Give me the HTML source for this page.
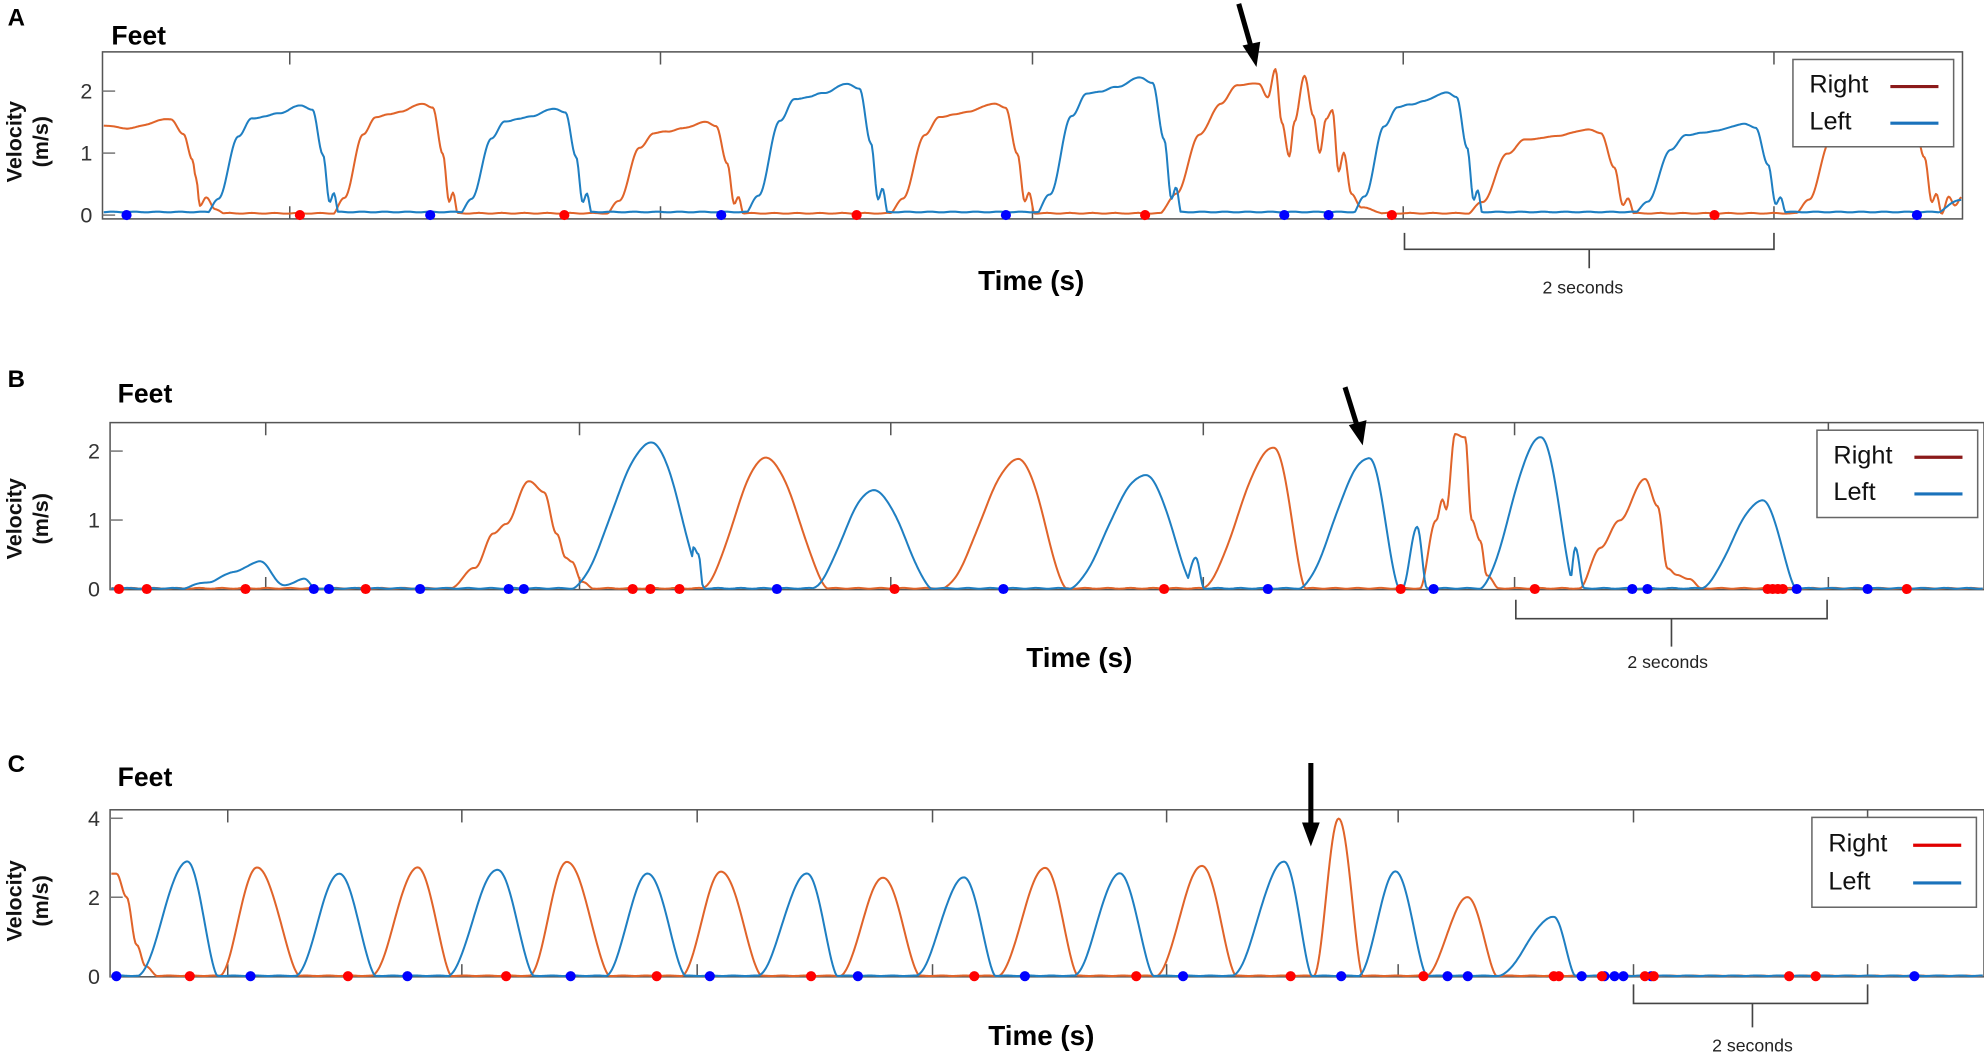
<!DOCTYPE html>
<html><head><meta charset="utf-8"><style>
html,body{margin:0;padding:0;background:#fff;}
svg{display:block;}
text{font-family:"Liberation Sans",sans-serif;}
</style></head><body>
<svg id="s" width="1984" height="1054" viewBox="0 0 1568 833" preserveAspectRatio="none" xmlns="http://www.w3.org/2000/svg">
<rect width="1568" height="833" fill="#fff"/>
<g id="plots"></g>
<text x="6" y="20" font-size="19" font-weight="bold">A</text>
<text x="6" y="306" font-size="19" font-weight="bold">B</text>
<text x="6" y="610" font-size="19" font-weight="bold">C</text>
<text x="88" y="35" font-size="21" font-weight="bold">Feet</text>
<text x="93" y="318" font-size="21" font-weight="bold">Feet</text>
<text x="93" y="621" font-size="21" font-weight="bold">Feet</text>
<g font-size="17" font-weight="bold" text-anchor="middle" fill="#111">
<text transform="translate(17,112) rotate(-90)">Velocity</text>
<text transform="translate(38,112) rotate(-90)">(m/s)</text>
<text transform="translate(17,410) rotate(-90)">Velocity</text>
<text transform="translate(38,410) rotate(-90)">(m/s)</text>
<text transform="translate(17,712) rotate(-90)">Velocity</text>
<text transform="translate(38,712) rotate(-90)">(m/s)</text>
</g>
<g font-size="22" font-weight="bold" text-anchor="middle">
<text x="815" y="229">Time (s)</text>
<text x="853" y="527">Time (s)</text>
<text x="823" y="826">Time (s)</text>
</g>
<g fill="none" stroke="#444" stroke-width="1.3">
<path d="M1110,184 V197 H1402 V184 M1256,197 V212"/>
<path d="M1198,474 V489 H1444 V474 M1321,489 V511"/>
<path d="M1291,778 V793 H1476 V778 M1385,793 V812"/>
</g>
<g font-size="14" text-anchor="middle" fill="#222">
<text x="1251" y="232">2 seconds</text>
<text x="1318" y="528">2 seconds</text>
<text x="1385" y="831">2 seconds</text>
</g>
<g stroke="#000" stroke-width="4" fill="#000">
<line x1="979" y1="3" x2="989" y2="38"/>
<polygon points="982,36 996,33 993,53" stroke="none"/>
<line x1="1063" y1="306" x2="1073" y2="338"/>
<polygon points="1066,336 1080,332 1077,352" stroke="none"/>
<line x1="1036" y1="603" x2="1036" y2="652"/>
<polygon points="1029,650 1043,650 1036,669" stroke="none"/>
</g>
</svg>
<script>
(function(){
var NS="http://www.w3.org/2000/svg", G=document.getElementById("plots");
function el(t,a,p){var e=document.createElementNS(NS,t);for(var k in a)e.setAttribute(k,a[k]);(p||G).appendChild(e);return e;}
function kp(pts){return function(x){if(x<=pts[0][0]||x>=pts[pts.length-1][0])return 0;
 for(var i=0;i<pts.length-1;i++){var a=pts[i],b=pts[i+1];if(x>=a[0]&&x<=b[0]){var u=(x-a[0])/(b[0]-a[0]);u=0.5-0.5*Math.cos(Math.PI*u);return a[1]+(b[1]-a[1])*u;}}return 0;};}
function plateau(x0,x1,h){var w=x1-x0;return kp([[x0,0],[x0+.1*w,.15*h],[x0+.25*w,.72*h],[x0+.35*w,.88*h],[x0+.45*w,.9*h],[x0+.55*w,.93*h],[x0+.72*w,h],[x0+.8*w,.96*h],[x0+.88*w,.55*h],[x0+.93*w,.12*h],[x0+.96*w,.2*h],[x1,0]]);}
function bell(x0,xp,x1,h){return function(x){if(x<=x0||x>=x1)return 0;var u;if(x<xp){u=(x-x0)/(xp-x0);return h*(0.5-0.5*Math.cos(Math.PI*u));}u=(x-xp)/(x1-xp);return h*Math.pow(0.5+0.5*Math.cos(Math.PI*u),0.8);};}
function axes(L,R,T,B,ticksX,yt,zero,unit){
 el("rect",{x:L,y:T,width:R-L,height:B-T,fill:"none",stroke:"#555","stroke-width":1.2});
 ticksX.forEach(function(x){el("line",{x1:x,x2:x,y1:T,y2:T+10,stroke:"#555","stroke-width":1.2});el("line",{x1:x,x2:x,y1:B,y2:B-10,stroke:"#555","stroke-width":1.2});});
 yt.forEach(function(v){var y=zero-v*unit;el("line",{x1:L,x2:L+10,y1:y,y2:y,stroke:"#777","stroke-width":1.2});var t=el("text",{x:L-8,y:y+6,"font-size":17,"text-anchor":"end",fill:"#333"});t.textContent=v;});
}
function series(peaks,L,R,base,zero,unit,col,seed){var d="";for(var x=L;x<=R;x+=1){var v=base;peaks.forEach(function(p){v=Math.max(v,p(x));});v+=0.006*Math.sin(x*0.35+seed);var y=zero-v*unit;if(y>zero+1)y=zero+1;d+=(x==L?"M":"L")+x+","+y.toFixed(1);}
 el("path",{d:d,fill:"none",stroke:col,"stroke-width":1.6,"stroke-linejoin":"round"});}
function dots(xs,y,c){xs.forEach(function(x){el("circle",{cx:x,cy:y,r:4,fill:c});});}
function legend(x,y,w,h,rc){el("rect",{x:x,y:y,width:w,height:h,fill:"#fff",stroke:"#666","stroke-width":1.2});
 var t=el("text",{x:x+13,y:y+h*0.38,"font-size":20,fill:"#111"});t.textContent="Right";
 var t2=el("text",{x:x+13,y:y+h*0.8,"font-size":20,fill:"#111"});t2.textContent="Left";
 el("line",{x1:x+w-50,x2:x+w-12,y1:y+h*0.31,y2:y+h*0.31,stroke:rc,"stroke-width":2.5});
 el("line",{x1:x+w-50,x2:x+w-12,y1:y+h*0.73,y2:y+h*0.73,stroke:"#1a72bb","stroke-width":2.5});}
var OR="#e0642a", BL="#1f7fc2";
var zA=170,uA=49;
axes(81,1551,41,173,[229,522,816,1109,1402],[0,1,2],zA,uA);
var oA=[kp([[60,1.45],[80,1.45],[100,1.4],[135,1.55],[145,1.3],[152,0.9],[155,0.6],[158,0.15],[163,0.28],[170,0.1],[180,0]]),
 plateau(262,362,1.8),plateau(478,588,1.5),plateau(702,818,1.8),
 kp([[915,0],[930,0.35],[948,1.3],[965,1.8],[978,2.1],[995,2.12],[1002,1.9],[1008,2.35],[1013,1.5],[1019,0.95],[1023,1.5],[1031,2.25],[1038,1.6],[1043,1.0],[1048,1.55],[1053,1.7],[1058,0.7],[1062,1.0],[1068,0.35],[1076,0.12],[1100,0]]),
 plateau(1158,1292,1.38),plateau(1418,1535,1.7),kp([[1535,0.05],[1540,0.3],[1545,0.15],[1551,0.3]])];
series(oA,82,1550,0.03,zA,uA,OR,1);
var bA=[plateau(162,268,1.77),plateau(362,468,1.72),plateau(588,702,2.12),plateau(818,934,2.22),plateau(1068,1172,1.98),plateau(1290,1412,1.47),kp([[1525,0],[1551,0.25]])];
series(bA,82,1550,0.05,zA,uA,BL,2);
dots([100,340,570,795,1015,1050,1515],zA,"#00f");
dots([237,446,677,905,1100,1355],zA,"#f00");
legend(1417,47,127,69,"#8b1a1a");
var zB=465.5,uB=54.5;
axes(87,1568,334,466,[210,458,704,951,1197,1445],[0,1,2],zB,uB);
var oB=[kp([[355,0],[375,0.3],[390,0.8],[400,0.95],[418,1.57],[430,1.4],[440,0.8],[447,0.45],[452,0.4],[460,0.1],[470,0]]),
 bell(553,605,655,1.9),bell(743,805,843,1.88),bell(948,1007,1032,2.05),
 kp([[1122,0],[1135,1.0],[1140,1.3],[1143,1.15],[1150,2.25],[1158,2.2],[1163,1.0],[1170,0.7],[1175,0.2],[1185,0]]),
 kp([[1248,0],[1265,0.6],[1280,1.0],[1300,1.6],[1310,1.2],[1318,0.3],[1325,0.2],[1335,0.15],[1345,0]])];
series(oB,88,1567,0.01,zB,uB,OR,3);
var bB=[kp([[140,0],[165,0.1],[185,0.25],[205,0.4],[225,0.05],[240,0.15],[250,0]]),
 bell(450,515,558,2.12),kp([[545,0],[548,0.6],[552,0.5],[556,0]]),bell(640,690,737,1.43),
 bell(843,905,945,1.65),kp([[935,0],[945,0.45],[952,0]]),bell(1025,1082,1106,1.9),kp([[1108,0],[1120,0.9],[1128,0]]),
 bell(1168,1218,1245,2.2),kp([[1240,0],[1245,0.6],[1252,0]]),bell(1342,1393,1420,1.28)];
series(bB,88,1567,0.01,zB,uB,BL,4);
dots([94,116,194,289,500,514,537,707,920,1107,1213,1397,1401,1405,1409,1507],zB,"#f00");
dots([248,260,332,402,414,614,793,1002,1133,1290,1302,1420,1476],zB,"#00f");
legend(1436,340,127,69,"#8b1a1a");
var zC=771.5,uC=31.2;
axes(87,1568,640,772,[180,365,551,737,922,1105,1291,1476],[0,2,4],zC,uC);
var oC=[kp([[60,2.65],[92,2.6],[100,2.0],[108,0.8],[115,0.25],[125,0]]),bell(173,203,237,2.75),bell(293,330,357,2.75),bell(418,448,482,2.9),
 bell(538,570,602,2.65),bell(663,698,727,2.5),bell(788,826,852,2.75),bell(913,950,977,2.8),bell(1038,1058,1077,4.0),bell(1126,1160,1183,2.0)];
series(oC,88,1567,0.01,zC,uC,OR,5);
var bC=[bell(108,148,172,2.9),bell(233,268,297,2.6),bell(353,393,422,2.7),bell(478,512,542,2.6),bell(598,638,662,2.6),
 bell(723,762,787,2.5),bell(848,885,912,2.6),bell(973,1015,1037,2.9),bell(1073,1103,1128,2.65),bell(1183,1228,1245,1.5)];
series(bC,88,1567,0.01,zC,uC,BL,6);
dots([92,198,322,451,561,678,810,935,1060,1144,1160,1250,1268,1276,1283,1305,1513],zC,"#00f");
dots([150,275,400,519,641,770,898,1020,1125,1228,1232,1266,1300,1307,1414,1435],zC,"#f00");
legend(1432,646,130,71,"#e00000");
})();
</script>
</body></html>
